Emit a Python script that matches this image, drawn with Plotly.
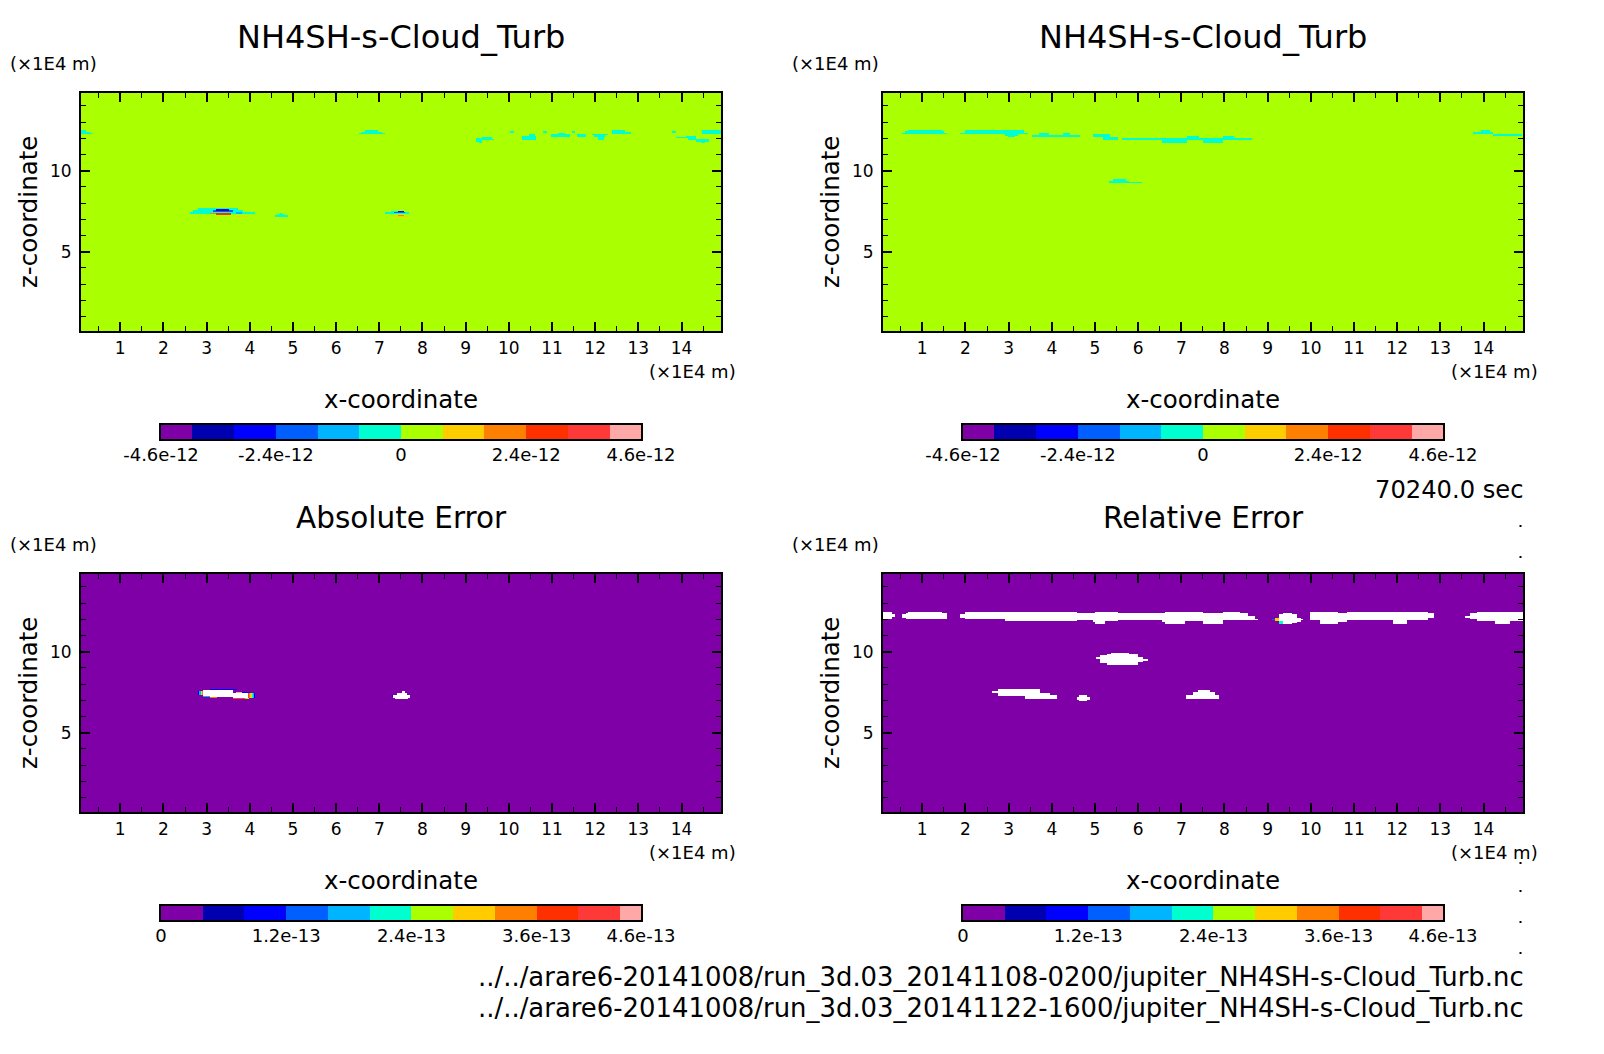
import numpy as np
import plotly.graph_objects as go

W, H = 1604, 1054
FONT = "DejaVu Sans"

# colour levels (index = level)
LEVEL_COLORS = ["#8000a8", "#0000b0", "#0000ff", "#0060ff", "#00b4ff", "#00ffd0",
                "#aaff00", "#ffcc00", "#ff8000", "#ff3000", "#ff3838", "#ffa8a8"]
WHITE = -1  # out of range of the colour scale

X_TICKS = list(range(1, 15))
Z_TICKS = [5, 10]

# colour-bar edges and labels
CB_TOP_EDGES = [-4.6e-12, -4e-12, -3.2e-12, -2.4e-12, -1.6e-12, -0.8e-12, 0, 0.8e-12,
                1.6e-12, 2.4e-12, 3.2e-12, 4e-12, 4.6e-12]
CB_TOP_TICKS = [-4.6e-12, -2.4e-12, 0, 2.4e-12, 4.6e-12]
CB_TOP_TEXT = ["-4.6e-12", "-2.4e-12", "0", "2.4e-12", "4.6e-12"]
CB_BOT_EDGES = [0, 0.4e-13, 0.8e-13, 1.2e-13, 1.6e-13, 2e-13, 2.4e-13, 2.8e-13,
                3.2e-13, 3.6e-13, 4e-13, 4.4e-13, 4.6e-13]
CB_BOT_TICKS = [0, 1.2e-13, 2.4e-13, 3.6e-13, 4.6e-13]
CB_BOT_TEXT = ["0", "1.2e-13", "2.4e-13", "3.6e-13", "4.6e-13"]

# regions: (x0, x1, z0, z1, level), in units of 1E4 m
FIELD_A = [
    (0.09, 0.21, 12.27, 12.52, 5), (0.09, 0.3, 12.27, 12.39, 5), (0.09, 0.37, 12.27, 12.3, 5),
    (6.56, 7.16, 12.27, 12.33, 5), (6.63, 7.09, 12.33, 12.42, 5), (6.7, 7.0, 12.42, 12.52, 5),
    (9.28, 9.42, 11.78, 12.0, 5), (9.35, 9.42, 11.71, 11.78, 5), (9.42, 9.65, 11.92, 12.08, 5), (9.65, 9.7, 11.92, 11.98, 5),
    (10.07, 10.16, 12.33, 12.45, 5),
    (10.35, 10.67, 11.9, 12.15, 5), (10.5, 10.65, 12.15, 12.27, 5),
    (10.83, 10.93, 12.33, 12.45, 5),
    (11.02, 11.46, 12.08, 12.25, 5), (11.18, 11.35, 12.25, 12.33, 5),
    (11.51, 11.58, 12.33, 12.45, 5),
    (11.62, 11.83, 12.08, 12.27, 5),
    (11.97, 12.35, 12.2, 12.27, 5), (12.03, 12.28, 12.08, 12.2, 5), (12.12, 12.25, 11.9, 12.08, 5),
    (12.44, 12.88, 12.27, 12.37, 5), (12.44, 12.75, 12.37, 12.52, 5),
    (13.83, 13.93, 12.33, 12.45, 5),
    (13.93, 14.39, 12.0, 12.1, 5), (14.15, 14.39, 12.1, 12.15, 5),
    (14.39, 14.69, 11.78, 11.95, 5), (14.5, 14.6, 11.71, 11.78, 5), (14.2, 14.4, 11.92, 12.0, 5),
    (14.53, 14.97, 12.27, 12.52, 5),
    (2.8, 3.75, 7.58, 7.7, 5), (2.7, 3.85, 7.45, 7.58, 5), (2.62, 4.14, 7.33, 7.45, 5),
    (3.15, 3.62, 7.45, 7.58, 3), (3.23, 3.54, 7.52, 7.64, 1),
    (3.09, 3.59, 7.33, 7.4, 8), (3.23, 3.57, 7.27, 7.39, 9),
    (3.69, 3.83, 7.33, 7.45, 4), (3.67, 3.94, 7.15, 7.21, 7),
    (4.6, 4.9, 7.15, 7.24, 5), (4.67, 4.82, 7.24, 7.33, 5), (4.71, 4.77, 7.33, 7.37, 5),
    (7.16, 7.72, 7.33, 7.45, 5), (7.3, 7.6, 7.45, 7.52, 5),
    (7.37, 7.62, 7.39, 7.47, 3), (7.46, 7.6, 7.42, 7.52, 2),
    (7.46, 7.6, 7.21, 7.27, 8), (7.37, 7.72, 7.15, 7.21, 7),
]
FIELD_B = [
    (0.53, 1.58, 12.27, 12.36, 5), (0.6, 1.5, 12.36, 12.44, 5), (0.67, 1.46, 12.44, 12.52, 5),
    (1.88, 3.46, 12.27, 12.36, 5), (2.0, 3.37, 12.36, 12.52, 5),
    (2.93, 3.23, 12.15, 12.27, 5), (3.0, 3.15, 12.08, 12.15, 5),
    (3.56, 4.67, 12.08, 12.21, 5), (3.72, 3.95, 12.21, 12.3, 5), (4.28, 4.45, 12.21, 12.3, 5),
    (4.97, 5.37, 12.08, 12.27, 5), (5.2, 5.55, 11.9, 12.08, 5),
    (5.65, 8.67, 11.9, 12.05, 5), (6.58, 7.16, 11.74, 11.9, 5), (7.53, 8.0, 11.74, 11.9, 5),
    (7.16, 7.45, 12.05, 12.15, 5), (8.0, 8.25, 12.05, 12.15, 5),
    (5.35, 6.11, 9.22, 9.31, 5), (5.35, 5.8, 9.31, 9.37, 5), (5.45, 5.75, 9.37, 9.49, 5),
    (13.81, 14.28, 12.27, 12.39, 5), (14.0, 14.2, 12.39, 12.52, 5), (14.28, 14.95, 12.15, 12.27, 5),
]
FIELD_ABS = [
    (3.09, 3.71, 7.62, 7.68, 2), (2.98, 3.09, 7.55, 7.62, 4),
    (2.82, 2.84, 7.31, 7.55, 2), (2.84, 2.87, 7.31, 7.55, 4), (2.87, 2.89, 7.31, 7.55, 5),
    (2.89, 2.91, 7.31, 7.55, 6), (2.91, 2.93, 7.31, 7.55, 8),
    (2.93, 3.63, 7.2, 7.62, WHITE), (3.09, 3.25, 7.16, 7.22, 8), (2.93, 3.09, 7.18, 7.24, 4),
    (3.69, 3.83, 7.47, 7.52, 11), (3.83, 4.02, 7.47, 7.52, 2),
    (3.63, 3.98, 7.12, 7.47, WHITE),
    (3.63, 3.9, 7.06, 7.12, 10), (3.9, 4.0, 7.06, 7.12, 6),
    (3.98, 4.0, 7.12, 7.44, 10), (4.0, 4.02, 7.12, 7.44, 8), (4.02, 4.04, 7.12, 7.44, 7),
    (4.04, 4.06, 7.12, 7.44, 6), (4.06, 4.09, 7.12, 7.44, 5), (4.09, 4.11, 7.12, 7.44, 4),
    (4.11, 4.14, 7.12, 7.44, 2),
    (7.32, 7.34, 7.2, 7.35, 2),
    (7.34, 7.74, 7.15, 7.35, WHITE), (7.45, 7.67, 7.35, 7.47, WHITE), (7.55, 7.62, 7.47, 7.55, WHITE),
    (7.4, 7.7, 7.06, 7.15, WHITE),
]
FIELD_REL = [
    (0.09, 0.3, 12.02, 12.45, WHITE), (0.3, 0.37, 12.12, 12.33, WHITE),
    (0.53, 0.62, 12.1, 12.33, WHITE), (0.62, 0.7, 12.02, 12.37, WHITE), (0.67, 1.46, 12.02, 12.45, WHITE), (1.46, 1.58, 12.05, 12.37, WHITE),
    (1.88, 2.0, 12.1, 12.33, WHITE), (2.0, 2.93, 12.02, 12.45, WHITE), (2.93, 4.6, 11.9, 12.45, WHITE),
    (4.6, 4.97, 11.96, 12.37, WHITE), (4.97, 5.07, 11.84, 12.4, WHITE), (5.02, 5.25, 11.71, 12.45, WHITE),
    (5.25, 5.55, 11.9, 12.45, WHITE), (5.55, 6.57, 11.93, 12.37, WHITE), (6.2, 6.4, 12.37, 12.42, WHITE),
    (6.57, 6.65, 11.84, 12.4, WHITE), (6.65, 7.11, 11.71, 12.45, WHITE), (7.11, 7.54, 11.9, 12.45, WHITE),
    (7.54, 8.0, 11.71, 12.37, WHITE), (8.0, 8.39, 11.93, 12.45, WHITE), (8.39, 8.58, 11.96, 12.37, WHITE),
    (8.58, 8.74, 11.96, 12.2, WHITE), (8.74, 8.81, 11.96, 12.02, WHITE),
    (9.14, 9.2, 11.97, 12.05, 3), (9.2, 9.3, 11.9, 12.1, 7), (9.3, 9.42, 11.71, 11.9, 5),
    (9.3, 9.39, 11.9, 12.3, WHITE), (9.39, 9.6, 11.71, 12.42, WHITE), (9.6, 9.72, 11.78, 12.3, WHITE),
    (9.72, 9.8, 11.84, 12.1, WHITE), (9.8, 9.86, 11.96, 12.02, WHITE),
    (10.02, 10.25, 11.96, 12.45, WHITE), (10.25, 10.67, 11.71, 12.45, WHITE), (10.67, 10.87, 11.84, 12.42, WHITE),
    (10.87, 12.77, 11.93, 12.45, WHITE), (11.95, 12.28, 11.71, 11.93, WHITE), (12.77, 12.9, 12.06, 12.37, WHITE),
    (13.63, 13.75, 12.1, 12.2, WHITE), (13.75, 13.9, 12.0, 12.37, WHITE), (13.9, 14.97, 11.9, 12.45, WHITE),
    (14.32, 14.67, 11.71, 11.9, WHITE),
    (5.04, 5.14, 9.55, 9.68, WHITE), (5.14, 5.3, 9.3, 9.8, WHITE), (5.3, 5.4, 9.18, 9.88, WHITE),
    (5.4, 5.8, 9.18, 9.92, WHITE), (5.8, 6.02, 9.18, 9.85, WHITE), (6.02, 6.13, 9.35, 9.65, WHITE), (6.13, 6.25, 9.45, 9.55, WHITE),
    (2.62, 2.76, 7.45, 7.58, WHITE), (2.76, 3.74, 7.27, 7.7, WHITE), (3.39, 3.97, 7.08, 7.45, WHITE), (3.97, 4.14, 7.1, 7.33, WHITE),
    (4.6, 4.9, 7.0, 7.22, WHITE), (4.66, 4.84, 6.93, 7.3, WHITE),
    (7.14, 7.9, 7.1, 7.35, WHITE), (7.3, 7.8, 7.35, 7.5, WHITE), (7.42, 7.7, 7.5, 7.62, WHITE),
]

TOP_TITLE = "NH4SH-s-Cloud_Turb"
PANEL_TITLES = [TOP_TITLE, TOP_TITLE, "Absolute Error", "Relative Error"]
TITLE_SIZES = [32, 32, 29.5, 29.5]
TIME_LABEL = "70240.0 sec"
FILE_LABELS = ["../../arare6-20141008/run_3d.03_20141108-0200/jupiter_NH4SH-s-Cloud_Turb.nc",
               "../../arare6-20141008/run_3d.03_20141122-1600/jupiter_NH4SH-s-Cloud_Turb.nc"]
XLIM = (0.09, 14.915)
ZLIM = (0.1, 14.8)
NX, NZ = 640, 238
X_READ_SCALE = 0.996  # calibration of the x values read above against the tick spacing

# layout: (field, base level, left px, top px, title index, colour bar)
PANELS = [
    (FIELD_A, 6, 80, 92, 0, (CB_TOP_EDGES, CB_TOP_TICKS, CB_TOP_TEXT)),
    (FIELD_B, 6, 882, 92, 1, (CB_TOP_EDGES, CB_TOP_TICKS, CB_TOP_TEXT)),
    (FIELD_ABS, 0, 80, 573, 2, (CB_BOT_EDGES, CB_BOT_TICKS, CB_BOT_TEXT)),
    (FIELD_REL, 0, 882, 573, 3, (CB_BOT_EDGES, CB_BOT_TICKS, CB_BOT_TEXT)),
]


def rasterise(regions, base):
    xc = XLIM[0] + (np.arange(NX) + 0.5) * (XLIM[1] - XLIM[0]) / NX
    zc = ZLIM[0] + (np.arange(NZ) + 0.5) * (ZLIM[1] - ZLIM[0]) / NZ
    grid = np.full((NZ, NX), float(base))
    for x0, x1, z0, z1, lev in regions:
        x0 = XLIM[0] + (x0 - XLIM[0]) * X_READ_SCALE
        x1 = XLIM[0] + (x1 - XLIM[0]) * X_READ_SCALE
        mask_x = (xc >= x0) & (xc <= x1)
        mask_z = (zc >= z0) & (zc <= z1)
        grid[np.ix_(mask_z, mask_x)] = np.nan if lev == WHITE else lev
    return xc, zc, grid


n = len(LEVEL_COLORS)
scale = []
for i, c in enumerate(LEVEL_COLORS):
    scale += [[i / n, c], [(i + 1) / n, c]]

fig = go.Figure()
layout = dict(template="none", width=W, height=H, margin=dict(l=0, r=0, t=0, b=0, pad=0), autosize=False,
              paper_bgcolor="white", plot_bgcolor="white", showlegend=False,
              font=dict(family=FONT, color="black"))
notes = []


def note(text, px, py, size, anchor="center", angle=0):
    notes.append(dict(text=text, x=px / W, y=1 - py / H, xref="paper", yref="paper",
                      xanchor=anchor, yanchor="middle", showarrow=False, textangle=angle,
                      font=dict(size=size, family=FONT, color="black")))


for k, (field, base, left, top, ti, (edges, ticks, labels)) in enumerate(PANELS):
    ax = 2 * k + 1
    bx = 2 * k + 2
    xc, zc, grid = rasterise(field, base)
    fig.add_trace(go.Heatmap(x=xc, y=zc, z=grid, zmin=-0.5, zmax=n - 0.5, colorscale=scale,
                             showscale=False, hoverongaps=False,
                             xaxis=f"x{ax}", yaxis=f"y{ax}"))
    common = dict(showline=True, linecolor="black", linewidth=2, mirror="allticks", automargin=False,
                  ticks="inside", tickcolor="black", tickwidth=2, ticklen=9,
                  showgrid=False, zeroline=False, tickfont=dict(size=17, family=FONT, color="black"))
    layout[f"xaxis{ax}"] = dict(domain=[(left + 1) / W, (left + 641) / W], range=list(XLIM),
                                anchor=f"y{ax}", tickvals=X_TICKS, ticklabelstandoff=1,
                                minor=dict(dtick=0.5, ticks="inside", ticklen=5, tickwidth=1, tickcolor="black"),
                                **common)
    layout[f"yaxis{ax}"] = dict(domain=[1 - (top + 239) / H, 1 - (top + 1) / H], range=list(ZLIM),
                                anchor=f"x{ax}", tickvals=Z_TICKS, ticklabelstandoff=4,
                                minor=dict(dtick=1, ticks="inside", ticklen=5, tickwidth=1, tickcolor="black"),
                                **common)
    # colour bar
    cb_top = top + 332
    cb_left = left + 80
    fig.add_trace(go.Heatmap(x=edges, y=[0, 1], z=[list(range(n))], zmin=-0.5, zmax=n - 0.5,
                             colorscale=scale, showscale=False, hoverinfo="skip",
                             xaxis=f"x{bx}", yaxis=f"y{bx}"))
    layout[f"xaxis{bx}"] = dict(domain=[(cb_left + 1) / W, (cb_left + 481) / W], anchor=f"y{bx}", automargin=False,
                                range=[edges[0], edges[-1]], tickvals=ticks, ticktext=labels,
                                ticks="", showline=True, linecolor="black", linewidth=2, mirror=True,
                                showgrid=False, zeroline=False, ticklabelstandoff=-2,
                                tickfont=dict(size=18, family=FONT, color="black"))
    layout[f"yaxis{bx}"] = dict(domain=[1 - (cb_top + 15) / H, 1 - (cb_top + 1) / H], anchor=f"x{bx}", automargin=False,
                                range=[0, 1], showticklabels=False, ticks="", showline=True,
                                linecolor="black", linewidth=2, mirror=True, showgrid=False, zeroline=False)
    cx = left + 321
    note(PANEL_TITLES[ti], cx, top - 55, TITLE_SIZES[ti])
    note("(×1E4 m)", left - 72 if left < 500 else left - 92, top - 29, 18, "left")
    note("(×1E4 m)", left + 642 + 16, top + 279, 18, "right")
    note("x-coordinate", cx, top + 307, 24.5)
    note("z-coordinate", left - 52, top + 120, 24.5, angle=-90)

note(TIME_LABEL, 1526, 490, 24.2, "right")
note(FILE_LABELS[0], 1526, 977, 25.9, "right")
note(FILE_LABELS[1], 1526, 1008, 25.9, "right")

shapes = []
for py in (526, 557, 863, 891, 922, 953):
    shapes.append(dict(type="rect", xref="paper", yref="paper", x0=1519.5 / W, x1=1521.5 / W,
                       y0=1 - (py + 1) / H, y1=1 - (py - 1) / H,
                       fillcolor="black", line=dict(width=0)))

layout["annotations"] = notes
layout["shapes"] = shapes
fig.update_layout(**layout)
fig.write_html("out.html", config={"displayModeBar": False},
               post_script="document.body.style.margin='0';document.body.style.overflow='hidden';")
